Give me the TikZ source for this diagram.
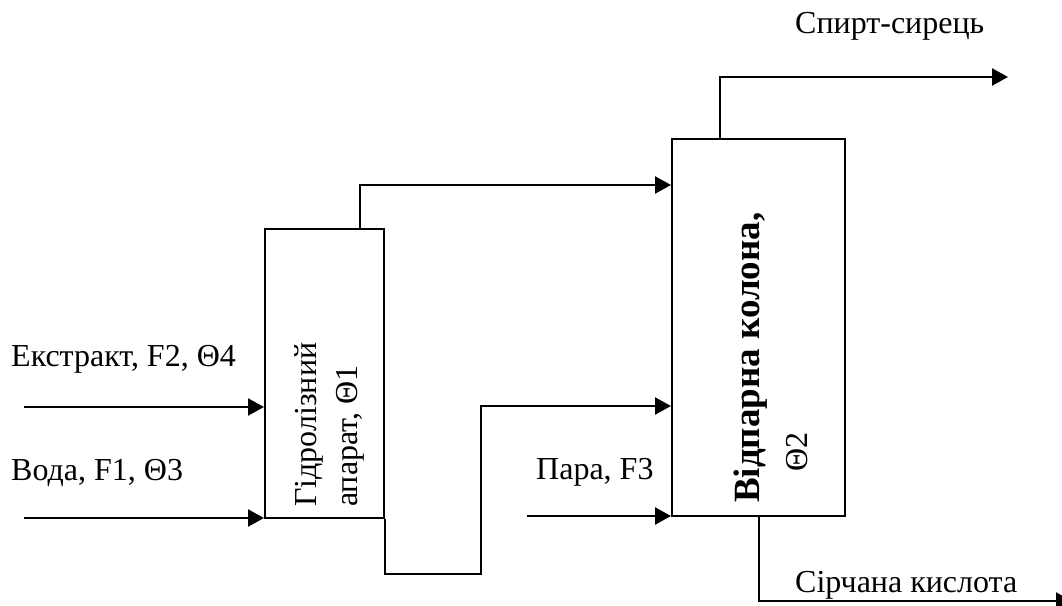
\documentclass[tikz,border=0pt]{standalone}
\usepackage{fontspec}
\setmainfont{Liberation Serif}
\usetikzlibrary{arrows.meta}
\tikzset{
  x=1pt,y=-1pt,
  unitbox/.style={draw,line width=2pt,minimum width=#1,inner sep=0pt},
  flow/.style={draw,line width=2.4pt,-{Triangle[length=16pt,width=17pt]}},
  lab/.style={inner sep=0pt,anchor=base west,font=\fontsize{32}{32}\selectfont},
  rotlab/.style={inner sep=0pt,anchor=base west,rotate=90,font=\fontsize{32}{32}\selectfont},
  rotbold/.style={inner sep=0pt,anchor=base west,rotate=90,font=\fontsize{37}{37}\selectfont\bfseries}
}
\begin{document}
\begin{tikzpicture}
\useasboundingbox (0,0) rectangle (1062,605);
\node[unitbox=119pt,minimum height=289pt] (hyd) at (324.5,373.5) {};
\node[unitbox=173pt,minimum height=377pt] (col) at (758.5,327.5) {};
% free ends and bends
\coordinate (ein) at (24,407);
\coordinate (win) at (24,518);
\coordinate (pin) at (527,516);
\coordinate (spirt) at (1008,77);
\coordinate (acid) at (1072,601);
\coordinate (top1) at (360,185);
\coordinate (top2) at (720,77);
\coordinate (lowa) at (385,574);
\coordinate (lowb) at (481,574);
\coordinate (lowc) at (481,406);
\coordinate (bot) at (759,601);
% labels
\node[lab] (lspirt) at (795,33) {Спирт-сирець};
\node[lab] (lextr) at (11,366) {Екстракт, F2, Θ4};
\node[lab] (lwater) at (11,480) {Вода, F1, Θ3};
\node[lab] (lpara) at (536,479) {Пара, F3};
\node[lab] (lacid) at (795,592) {Сірчана кислота};
\node[rotlab] (lh1) at (316,507) {Гідролізний};
\node[rotlab] (lh2) at (357,507) {апарат, Θ1};
\node[rotbold] (lc1) at (759,503) {Відпарна колона,};
\node[rotlab] (lc2) at (807,472) {Θ2};
% connectors
\draw[flow] (ein) -- (ein -| hyd.west);
\draw[flow] (win) -- (win -| hyd.west);
\draw[flow] (pin) -- (pin -| col.west);
\draw[flow] (top1 |- hyd.north) -- (top1) -- (top1 -| col.west);
\draw[flow] (top2 |- col.north) -- (top2) -- (spirt);
\draw[flow] (lowa |- hyd.south) -- (lowa) -- (lowb) -- (lowc) -- (lowc -| col.west);
\draw[flow] (bot |- col.south) -- (bot) -- (acid);
\end{tikzpicture}
\end{document}
